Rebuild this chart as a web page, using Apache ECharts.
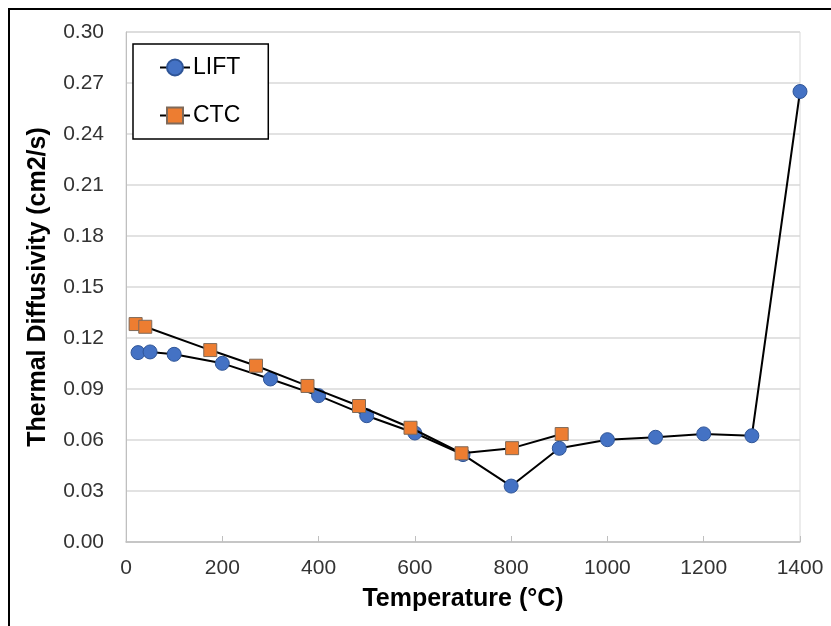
<!DOCTYPE html>
<html><head><meta charset="utf-8">
<script src="https://cdn.jsdelivr.net/npm/echarts@6/dist/echarts.min.js"></script>
<style>html,body{margin:0;padding:0;background:#fff}#c{width:831px;height:626px}</style>
</head><body><div id="c"></div>
<script>
var liftT = [25, 50, 100, 200, 300, 400, 500, 600, 700, 800, 900, 1000, 1100, 1200, 1300, 1400];
var liftV = [0.1114, 0.1118, 0.1104, 0.1051, 0.0959, 0.0861, 0.0743, 0.0641, 0.0514, 0.0329, 0.0551, 0.0602, 0.0616, 0.0636, 0.0625, 0.2650];
var ctcT = [20, 40, 175, 270, 377, 484, 591, 697, 802, 905];
var ctcV = [0.1282, 0.1266, 0.1129, 0.1037, 0.0918, 0.0800, 0.0672, 0.0522, 0.0552, 0.0635];
var yTicks = [0, 0.03, 0.06, 0.09, 0.12, 0.15, 0.18, 0.21, 0.24, 0.27, 0.30];
var xTicks = [0, 200, 400, 600, 800, 1000, 1200, 1400];

function pairs(a, b) { return a.map(function (x, i) { return [x, b[i]]; }); }
var font = '"Liberation Sans", Arial, sans-serif';
var chart = echarts.init(document.getElementById('c'), null, {renderer: 'canvas'});
chart.setOption({
  animation: false,
  backgroundColor: '#fff',
  graphic: [{type: 'rect', shape: {x: 9, y: 9, width: 900, height: 700}, style: {fill: 'none', stroke: '#000', lineWidth: 2}, z: 100}],
  grid: {left: 126, right: 31, top: 32, bottom: 84, show: true, borderColor: '#d9d9d9', borderWidth: 1},
  legend: {
    orient: 'vertical', left: 133, top: 44,
    padding: [12, 28, 12, 26], itemGap: 25, itemWidth: 30, itemHeight: 20,
    backgroundColor: '#fff', borderColor: '#000', borderWidth: 1.5,
    textStyle: {fontSize: 23, color: '#000', fontFamily: font, padding: [0, 0, 0, -2]},
    data: ['LIFT', 'CTC']
  },
  xAxis: {
    type: 'value', min: 0, max: 1400, interval: 200,
    name: 'Temperature (°C)', nameLocation: 'middle', nameGap: 45,
    nameTextStyle: {fontSize: 25, fontWeight: 'bold', color: '#000', fontFamily: font},
    axisLine: {lineStyle: {color: '#bfbfbf', width: 1.5}},
    axisTick: {show: true, inside: true, length: 6, lineStyle: {color: '#bfbfbf'}},
    axisLabel: {fontSize: 21, color: '#333', fontFamily: font, margin: 16, formatter: function (v) { return String(v); }},
    splitLine: {show: false}
  },
  yAxis: {
    type: 'value', min: 0, max: 0.30, interval: 0.03,
    name: 'Thermal Diffusivity (cm2/s)', nameLocation: 'middle', nameGap: 75,
    nameTextStyle: {fontSize: 25, fontWeight: 'bold', color: '#000', fontFamily: font},
    axisLine: {show: true, lineStyle: {color: '#bfbfbf', width: 1}},
    axisTick: {show: false},
    axisLabel: {fontSize: 21, color: '#333', fontFamily: font, margin: 22, formatter: function (v) { return v.toFixed(2); }},
    splitLine: {lineStyle: {color: '#d9d9d9', width: 1.5}}
  },
  series: [
    {name: 'LIFT', type: 'line', data: pairs(liftT, liftV), symbol: 'circle', symbolSize: 14,
     lineStyle: {color: '#000', width: 2}, itemStyle: {color: '#4472C4', borderColor: '#2F5597', borderWidth: 1}, z: 3},
    {name: 'CTC', type: 'line', data: pairs(ctcT, ctcV), symbol: 'rect', symbolSize: 13,
     lineStyle: {color: '#000', width: 2}, itemStyle: {color: '#ED7D31', borderColor: '#7f6a5a', borderWidth: 1}, z: 4}
  ]
});
</script></body></html>
